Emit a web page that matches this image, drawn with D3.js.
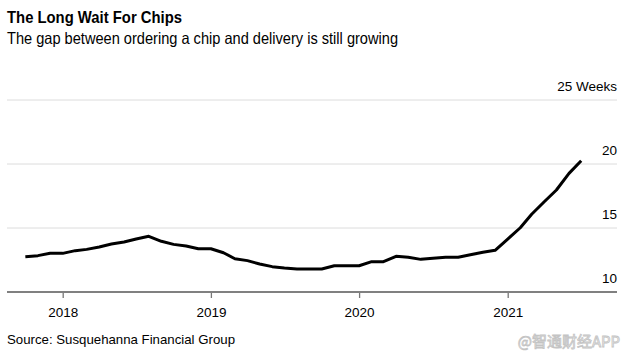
<!DOCTYPE html>
<html>
<head>
<meta charset="utf-8">
<script src="https://cdn.jsdelivr.net/npm/d3@7"></script>
<style>
  html, body { margin: 0; padding: 0; background: #fff; }
  svg { display: block; font-family: "Liberation Sans", Arial, sans-serif; }
</style>
</head>
<body>
<svg id="chart" width="630" height="360"></svg>
<script>
// ---- Data ----
const months = [
  "2017-10","2017-11","2017-12",
  "2018-01","2018-02","2018-03","2018-04","2018-05","2018-06","2018-07","2018-08","2018-09","2018-10","2018-11","2018-12",
  "2019-01","2019-02","2019-03","2019-04","2019-05","2019-06","2019-07","2019-08","2019-09","2019-10","2019-11","2019-12",
  "2020-01","2020-02","2020-03","2020-04","2020-05","2020-06","2020-07","2020-08","2020-09","2020-10","2020-11","2020-12",
  "2021-01","2021-02","2021-03","2021-04","2021-05","2021-06","2021-07"
];
const leadTimeWeeks = [
  12.76, 12.84, 13.02,
  13.02, 13.23, 13.33, 13.52, 13.75, 13.91, 14.14, 14.35, 13.96, 13.72, 13.59, 13.38,
  13.38, 13.07, 12.60, 12.45, 12.19, 11.98, 11.88, 11.80, 11.80, 11.80, 12.05, 12.05,
  12.05, 12.37, 12.37, 12.79, 12.71, 12.55, 12.63, 12.71, 12.71, 12.91, 13.10, 13.26,
  14.14, 15.02, 16.07, 17.05, 17.97, 19.27, 20.26
];
const yTicks = [10, 15, 20, 25];
const xTickYears = ["2018", "2019", "2020", "2021"];

const title = "The Long Wait For Chips";
const subtitle = "The gap between ordering a chip and delivery is still growing";
const source = "Source: Susquehanna Financial Group";
const watermark = "@智通财经APP";

// ---- Layout ----
const svg = d3.select("#chart");
const parse = d3.timeParse("%Y-%m");
const data = months.map((m, i) => ({ date: parse(m), value: leadTimeWeeks[i] }));

const plotLeft = 7, plotRight = 617, plotTop = 100, plotBottom = 292;

const x = d3.scaleTime()
  .domain([parse("2018-01"), parse("2021-01")])
  .range([62.7, 507.7]);
const y = d3.scaleLinear().domain([10, 25]).range([plotBottom, plotTop]);

// Title & subtitle
svg.append("text").attr("x", 7).attr("y", 23)
  .attr("font-size", 16.5).attr("font-weight", "bold").attr("fill", "#000")
  .attr("textLength", 175).attr("lengthAdjust", "spacingAndGlyphs")
  .text(title);
svg.append("text").attr("x", 7).attr("y", 43.5)
  .attr("font-size", 16.5).attr("fill", "#000")
  .attr("textLength", 391).attr("lengthAdjust", "spacingAndGlyphs")
  .text(subtitle);

// Gridlines (excluding baseline)
svg.append("g").selectAll("line")
  .data(yTicks.filter(d => d !== 10))
  .join("line")
  .attr("x1", plotLeft).attr("x2", plotRight)
  .attr("y1", d => y(d)).attr("y2", d => y(d))
  .attr("stroke", "#dcdcdc").attr("stroke-width", 1);

// Y labels (right aligned, above gridlines)
svg.append("g").selectAll("text")
  .data(yTicks)
  .join("text")
  .attr("x", plotRight).attr("y", d => y(d) - 9)
  .attr("text-anchor", "end")
  .attr("font-size", 13.5).attr("fill", "#000")
  .text(d => d === 25 ? d + " Weeks" : d);

// X axis via d3.axisBottom
const xAxis = d3.axisBottom(x)
  .tickValues(xTickYears.map(yv => parse(yv + "-01")))
  .tickFormat(d3.timeFormat("%Y"))
  .tickSize(6)
  .tickSizeOuter(0);
const gx = svg.append("g").attr("transform", `translate(0,${plotBottom})`).call(xAxis);
gx.select(".domain").remove();
gx.selectAll(".tick line").attr("stroke", "#777").attr("stroke-width", 1.3);
gx.selectAll(".tick text")
  .attr("font-family", "Liberation Sans, Arial, sans-serif")
  .attr("font-size", 13.5).attr("fill", "#000").attr("dy", 0).attr("y", 24.5);

// Baseline
svg.append("line")
  .attr("x1", plotLeft).attr("x2", plotRight)
  .attr("y1", plotBottom).attr("y2", plotBottom)
  .attr("stroke", "#808080").attr("stroke-width", 2);

// Line
const line = d3.line().x(d => x(d.date)).y(d => y(d.value));
svg.append("path").datum(data)
  .attr("d", line)
  .attr("fill", "none").attr("stroke", "#000")
  .attr("stroke-width", 3).attr("stroke-linejoin", "round").attr("stroke-linecap", "butt");

// Source
svg.append("text").attr("x", 7).attr("y", 343.5)
  .attr("font-size", 13.5).attr("fill", "#000")
  .attr("textLength", 228).attr("lengthAdjust", "spacingAndGlyphs")
  .text(source);

// Watermark
svg.append("text").attr("x", 620).attr("y", 347)
  .attr("text-anchor", "end")
  .attr("font-family", "Noto Sans CJK SC, sans-serif")
  .attr("font-size", 15).attr("fill", "#f4f4f4").attr("stroke", "#c4c4c4").attr("stroke-width", 0.8)
  .text(watermark);
</script>
</body>
</html>
